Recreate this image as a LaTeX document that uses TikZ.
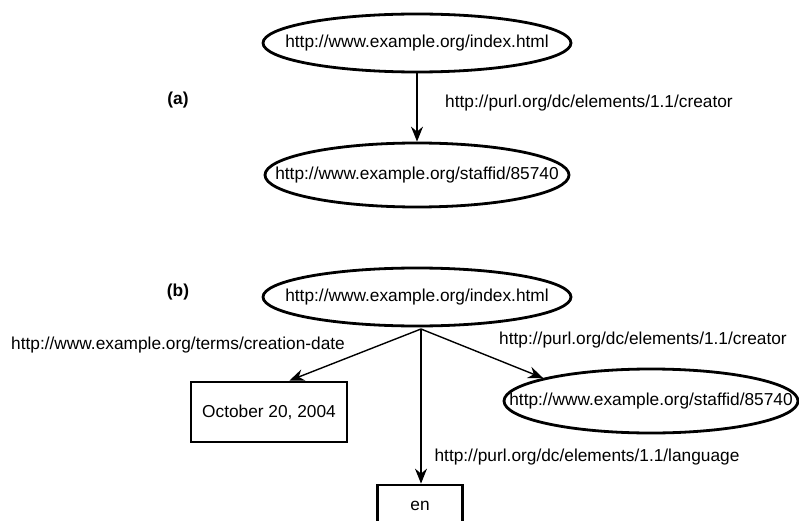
\documentclass[tikz,border=0pt]{standalone}
\usepackage{fontspec}
\setmainfont{Liberation Sans}
\usetikzlibrary{shapes.geometric,arrows.meta}
\newcommand{\zerowd}[1]{\makebox[0pt]{#1}}
\tikzset{
  res/.style={draw, ellipse, line width=2.8pt, inner sep=0pt, font=\fontsize{17.3}{20}\selectfont},
  lit/.style={draw, rectangle, line width=2.8pt, inner sep=0pt, font=\fontsize{17.3}{20}\selectfont},
  prop/.style={font=\fontsize{17.3}{20}\selectfont, inner sep=0pt},
  tag/.style={font=\fontsize{17.3}{20}\selectfont\bfseries, inner sep=0pt},
  arc/.style={line width=1.4pt, -{Stealth[length=15pt, width=12pt, inset=5pt]}}
}
\begin{document}
\begin{tikzpicture}[x=1pt, y=-1pt]
  \useasboundingbox (0,0) rectangle (799,521);
  \clip (0,0) rectangle (799,521);

  % (a) a single statement
  \node[tag] (la) at (178,100) {(a)};
  \node[res, minimum width=308pt, minimum height=58pt] (a1) at (417,43) {\zerowd{http://www.example.org/index.html}};
  \node[res, minimum width=304pt, minimum height=64pt] (a2) at (417,175) {\zerowd{http://www.example.org/staffid/85740}};
  \draw[arc] (a1) -- (a2);
  \node[prop] (pa) at (589,103) {http://purl.org/dc/elements/1.1/creator};

  % (b) several statements about one resource
  \node[tag] (lb) at (178,292) {(b)};
  \node[res, minimum width=308pt, minimum height=58pt] (b1) at (417,297) {\zerowd{http://www.example.org/index.html}};
  \coordinate (o) at (421,329);
  \node[lit, minimum width=156pt, minimum height=60pt] (date) at (269,412) {October 20, 2004};
  \node[res, minimum width=294pt, minimum height=64pt] (s2) at (651,401) {\zerowd{http://www.example.org/staffid/85740}};
  \node[lit, minimum width=85pt, minimum height=42pt] (en) at (420,506) {en};

  \draw[arc] (o) -- (date.57);
  \draw[arc] (o) -- (s2.168);
  \draw[arc] (o) -- (en.north -| o);

  \node[prop] (pd) at (178,345) {http://www.example.org/terms/creation-date};
  \node[prop] (pc) at (643,340) {http://purl.org/dc/elements/1.1/creator};
  \node[prop] (pl) at (587,457) {http://purl.org/dc/elements/1.1/language};
\end{tikzpicture}
\end{document}
